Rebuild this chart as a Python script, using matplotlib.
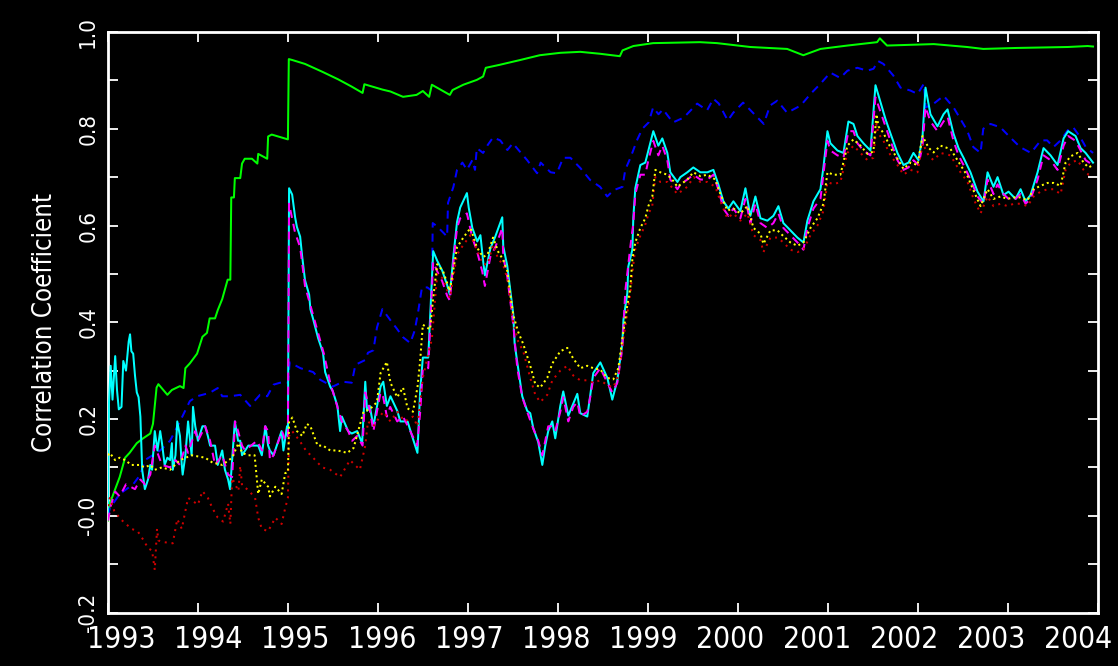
import numpy as np
import matplotlib
matplotlib.use("Agg")
import matplotlib.pyplot as plt
from matplotlib.font_manager import FontProperties, findfont
from matplotlib.transforms import blended_transform_factory

# ---------------------------------------------------------------- data
YEARS = list(range(1993, 2005))
YEAR_LABELS = [str(y) for y in YEARS]
Y_TICKS = [-0.2, 0.0, 0.2, 0.4, 0.6, 0.8, 1.0]
Y_TICK_LABELS = ['-0.2', '-0.0', '0.2', '0.4', '0.6', '0.8', '1.0']
Y_LABEL = 'Correlation Coefficient'

green_t = [1993.00, 1993.02, 1993.08, 1993.13, 1993.19, 1993.24, 1993.32, 1993.39, 1993.47, 1993.50,
           1993.54, 1993.56, 1993.66, 1993.71, 1993.80, 1993.84, 1993.86, 1993.91, 1993.99, 1994.05,
           1994.10, 1994.13, 1994.19, 1994.22, 1994.27, 1994.30, 1994.33, 1994.36, 1994.37, 1994.40,
           1994.41, 1994.47, 1994.49, 1994.52, 1994.60, 1994.66, 1994.67, 1994.77, 1994.78, 1994.82,
           1995.00, 1995.01, 1995.05, 1995.19, 1995.38, 1995.56, 1995.71, 1995.83, 1995.85, 1996.05,
           1996.14, 1996.28, 1996.43, 1996.50, 1996.57, 1996.60, 1996.80, 1996.83, 1996.95, 1997.10,
           1997.17, 1997.20, 1997.35, 1997.58, 1997.80, 1998.03, 1998.25, 1998.47, 1998.69, 1998.72,
           1998.84, 1999.06, 1999.58, 1999.77, 2000.14, 2000.55, 2000.73, 2000.92, 2001.22, 2001.55,
           2001.58, 2001.66, 2002.18, 2002.55, 2002.73, 2003.10, 2003.67, 2003.89, 2003.95]
green_v = [-0.010, 0.025, 0.055, 0.080, 0.120, 0.130, 0.150, 0.160, 0.170, 0.190,
           0.265, 0.272, 0.250, 0.260, 0.268, 0.264, 0.305, 0.315, 0.335, 0.370,
           0.378, 0.408, 0.408, 0.425, 0.448, 0.468, 0.488, 0.488, 0.658, 0.658,
           0.698, 0.698, 0.728, 0.738, 0.738, 0.728, 0.748, 0.738, 0.784, 0.788,
           0.778, 0.944, 0.942, 0.934, 0.918, 0.902, 0.887, 0.874, 0.892, 0.881,
           0.877, 0.866, 0.870, 0.878, 0.866, 0.891, 0.870, 0.880, 0.891, 0.901,
           0.908, 0.926, 0.932, 0.942, 0.952, 0.957, 0.959, 0.955, 0.950, 0.962,
           0.971, 0.977, 0.979, 0.977, 0.969, 0.965, 0.952, 0.965, 0.972, 0.979,
           0.987, 0.972, 0.975, 0.969, 0.965, 0.967, 0.969, 0.971, 0.970]

blue_t = [1993.00, 1993.02, 1993.13, 1993.28, 1993.36, 1993.41, 1993.58, 1993.69, 1993.80, 1993.91,
          1993.99, 1994.13, 1994.22, 1994.27, 1994.36, 1994.47, 1994.58, 1994.69, 1994.77, 1994.84,
          1994.95, 1995.00, 1995.02, 1995.14, 1995.28, 1995.36, 1995.50, 1995.61, 1995.71, 1995.75,
          1995.86, 1995.89, 1995.95, 1995.99, 1996.05, 1996.14, 1996.21, 1996.28, 1996.36, 1996.41,
          1996.45, 1996.49, 1996.55, 1996.60, 1996.61, 1996.66, 1996.77, 1996.78, 1996.84, 1996.88,
          1996.94, 1996.99, 1997.05, 1997.08, 1997.10, 1997.17, 1997.22, 1997.28, 1997.36, 1997.44,
          1997.50, 1997.66, 1997.77, 1997.81, 1997.92, 1997.99, 1998.06, 1998.14, 1998.25, 1998.36,
          1998.47, 1998.55, 1998.62, 1998.72, 1998.75, 1998.81, 1998.88, 1998.94, 1999.01, 1999.06,
          1999.12, 1999.17, 1999.28, 1999.40, 1999.55, 1999.66, 1999.73, 1999.79, 1999.89, 1999.95,
          2000.06, 2000.17, 2000.29, 2000.36, 2000.44, 2000.55, 2000.70, 2000.81, 2000.92, 2001.03,
          2001.14, 2001.22, 2001.33, 2001.44, 2001.51, 2001.56, 2001.62, 2001.73, 2001.81, 2001.92,
          2002.00, 2002.07, 2002.09, 2002.18, 2002.29, 2002.40, 2002.55, 2002.62, 2002.70, 2002.73,
          2002.81, 2002.92, 2003.03, 2003.14, 2003.26, 2003.37, 2003.44, 2003.51, 2003.59, 2003.67,
          2003.73, 2003.81, 2003.87, 2003.95]
blue_v = [0.000, 0.015, 0.045, 0.065, 0.085, 0.115, 0.135, 0.155, 0.195, 0.237,
          0.247, 0.254, 0.264, 0.247, 0.247, 0.250, 0.227, 0.250, 0.247, 0.271,
          0.277, 0.275, 0.317, 0.305, 0.297, 0.281, 0.267, 0.277, 0.275, 0.312,
          0.322, 0.337, 0.342, 0.389, 0.427, 0.404, 0.387, 0.369, 0.357, 0.383,
          0.424, 0.472, 0.472, 0.465, 0.605, 0.598, 0.577, 0.647, 0.680, 0.715,
          0.730, 0.715, 0.735, 0.715, 0.760, 0.750, 0.766, 0.782, 0.776, 0.756,
          0.770, 0.735, 0.708, 0.730, 0.710, 0.708, 0.740, 0.740, 0.719, 0.694,
          0.680, 0.660, 0.673, 0.680, 0.715, 0.741, 0.776, 0.800, 0.813, 0.844,
          0.830, 0.840, 0.813, 0.823, 0.852, 0.838, 0.862, 0.852, 0.817, 0.833,
          0.854, 0.833, 0.810, 0.848, 0.858, 0.833, 0.848, 0.872, 0.893, 0.916,
          0.905, 0.920, 0.926, 0.920, 0.924, 0.940, 0.934, 0.910, 0.885, 0.879,
          0.872, 0.893, 0.844, 0.852, 0.868, 0.844, 0.797, 0.762, 0.750, 0.800,
          0.810, 0.803, 0.782, 0.762, 0.750, 0.776, 0.776, 0.762, 0.776, 0.797,
          0.803, 0.782, 0.762, 0.750]

cyan_t = [1993.00, 1993.01, 1993.03, 1993.05, 1993.08, 1993.10, 1993.12, 1993.15, 1993.17, 1993.20,
          1993.23, 1993.245, 1993.26, 1993.28, 1993.30, 1993.32, 1993.34, 1993.36, 1993.38, 1993.41,
          1993.445, 1993.47, 1993.49, 1993.52, 1993.55, 1993.58, 1993.60, 1993.63, 1993.66, 1993.69,
          1993.71, 1993.72, 1993.75, 1993.77, 1993.80, 1993.82, 1993.83, 1993.86, 1993.89, 1993.93,
          1993.945, 1993.97, 1994.00, 1994.05, 1994.08, 1994.11, 1994.135, 1994.19, 1994.22, 1994.27,
          1994.30, 1994.335, 1994.357, 1994.41, 1994.446, 1994.47, 1994.49, 1994.56, 1994.67, 1994.71,
          1994.75, 1994.78, 1994.80, 1994.84, 1994.93, 1994.95, 1994.99, 1995.00, 1995.013, 1995.047,
          1995.08, 1995.10, 1995.136, 1995.158, 1995.19, 1995.236, 1995.25, 1995.28, 1995.336, 1995.39,
          1995.414, 1995.47, 1995.50, 1995.55, 1995.58, 1995.60, 1995.67, 1995.71, 1995.77, 1995.825,
          1995.86, 1995.88, 1995.91, 1995.95, 1996.03, 1996.06, 1996.10, 1996.14, 1996.215, 1996.25,
          1996.33, 1996.38, 1996.44, 1996.47, 1996.50, 1996.56, 1996.615, 1996.66, 1996.715, 1996.77,
          1996.80, 1996.84, 1996.88, 1996.915, 1996.99, 1997.01, 1997.05, 1997.105, 1997.14, 1997.17,
          1997.19, 1997.25, 1997.305, 1997.383, 1997.394, 1997.438, 1997.472, 1997.505, 1997.52, 1997.55,
          1997.605, 1997.66, 1997.694, 1997.727, 1997.783, 1997.828, 1997.861, 1997.894, 1997.939, 1997.972,
          1998.028, 1998.061, 1998.117, 1998.172, 1998.217, 1998.25, 1998.328, 1998.361, 1998.395, 1998.473,
          1998.551, 1998.606, 1998.662, 1998.717, 1998.73, 1998.773, 1998.784, 1998.829, 1998.84, 1998.862,
          1998.918, 1998.973, 1999.007, 1999.062, 1999.118, 1999.162, 1999.218, 1999.251, 1999.33, 1999.363,
          1999.44, 1999.507, 1999.585, 1999.663, 1999.73, 1999.785, 1999.841, 1999.897, 1999.952, 2000.03,
          2000.086, 2000.141, 2000.197, 2000.253, 2000.33, 2000.397, 2000.453, 2000.508, 2000.586, 2000.664,
          2000.731, 2000.775, 2000.842, 2000.92, 2000.953, 2000.998, 2001.031, 2001.109, 2001.176, 2001.231,
          2001.287, 2001.331, 2001.398, 2001.476, 2001.532, 2001.587, 2001.643, 2001.699, 2001.776, 2001.843,
          2001.899, 2001.954, 2002.01, 2002.055, 2002.088, 2002.143, 2002.221, 2002.288, 2002.333, 2002.399,
          2002.455, 2002.511, 2002.588, 2002.666, 2002.733, 2002.778, 2002.844, 2002.889, 2002.955, 2003.011,
          2003.089, 2003.145, 2003.20, 2003.256, 2003.334, 2003.40, 2003.478, 2003.556, 2003.623, 2003.674,
          2003.756, 2003.812, 2003.868, 2003.95]
cyan_v = [0.000, 0.230, 0.310, 0.240, 0.330, 0.260, 0.220, 0.225, 0.320, 0.300,
          0.360, 0.375, 0.340, 0.335, 0.290, 0.255, 0.245, 0.205, 0.095, 0.055,
          0.075, 0.105, 0.095, 0.175, 0.135, 0.175, 0.150, 0.105, 0.120, 0.115,
          0.150, 0.095, 0.125, 0.195, 0.165, 0.105, 0.085, 0.125, 0.195, 0.125,
          0.225, 0.185, 0.155, 0.185, 0.185, 0.165, 0.145, 0.145, 0.105, 0.135,
          0.095, 0.075, 0.055, 0.195, 0.155, 0.155, 0.125, 0.145, 0.145, 0.125,
          0.185, 0.145, 0.135, 0.125, 0.175, 0.135, 0.185, 0.165, 0.677, 0.664,
          0.617, 0.597, 0.577, 0.537, 0.487, 0.457, 0.427, 0.407, 0.367, 0.337,
          0.297, 0.267, 0.257, 0.227, 0.175, 0.205, 0.175, 0.170, 0.175, 0.150,
          0.277, 0.217, 0.227, 0.185, 0.267, 0.277, 0.227, 0.247, 0.217, 0.195,
          0.195, 0.165, 0.130, 0.257, 0.327, 0.327, 0.547, 0.527, 0.507, 0.477,
          0.457, 0.537, 0.607, 0.637, 0.667, 0.637, 0.595, 0.567, 0.580, 0.527,
          0.497, 0.552, 0.577, 0.617, 0.557, 0.517, 0.467, 0.417, 0.357, 0.317,
          0.247, 0.217, 0.212, 0.182, 0.152, 0.105, 0.145, 0.175, 0.195, 0.160,
          0.227, 0.257, 0.207, 0.232, 0.252, 0.212, 0.205, 0.250, 0.295, 0.317,
          0.285, 0.240, 0.280, 0.355, 0.405, 0.460, 0.515, 0.550, 0.617, 0.677,
          0.725, 0.730, 0.755, 0.795, 0.765, 0.780, 0.750, 0.710, 0.690, 0.700,
          0.710, 0.720, 0.710, 0.710, 0.715, 0.685, 0.650, 0.635, 0.650, 0.630,
          0.677, 0.620, 0.660, 0.615, 0.610, 0.620, 0.640, 0.605, 0.590, 0.575,
          0.565, 0.610, 0.650, 0.675, 0.720, 0.795, 0.770, 0.755, 0.750, 0.815,
          0.810, 0.785, 0.770, 0.755, 0.890, 0.855, 0.820, 0.790, 0.750, 0.725,
          0.730, 0.750, 0.735, 0.785, 0.885, 0.830, 0.805, 0.830, 0.840, 0.790,
          0.760, 0.740, 0.710, 0.670, 0.650, 0.710, 0.680, 0.700, 0.663, 0.670,
          0.655, 0.675, 0.650, 0.663, 0.710, 0.760, 0.745, 0.725, 0.780, 0.795,
          0.785, 0.760, 0.750, 0.730]

magenta_t = [1993.00, 1993.03, 1993.08, 1993.13, 1993.20, 1993.30, 1993.36, 1993.41, 1993.47, 1993.52,
             1993.56, 1993.60, 1993.69, 1993.75, 1993.80, 1993.86, 1993.89, 1993.97, 1994.00, 1994.08,
             1994.135, 1994.19, 1994.27, 1994.335, 1994.38, 1994.413, 1994.446, 1994.49, 1994.524, 1994.657,
             1994.713, 1994.746, 1994.78, 1994.80, 1994.84, 1994.935, 1994.97, 1995.00, 1995.013, 1995.047,
             1995.08, 1995.136, 1995.19, 1995.25, 1995.325, 1995.40, 1995.47, 1995.55, 1995.60, 1995.67,
             1995.714, 1995.77, 1995.83, 1995.86, 1995.914, 1995.95, 1996.03, 1996.06, 1996.10, 1996.137,
             1996.215, 1996.28, 1996.36, 1996.437, 1996.471, 1996.50, 1996.56, 1996.615, 1996.66, 1996.715,
             1996.77, 1996.80, 1996.84, 1996.88, 1996.915, 1996.99, 1997.05, 1997.105, 1997.16, 1997.19,
             1997.25, 1997.305, 1997.383, 1997.394, 1997.438, 1997.472, 1997.505, 1997.55, 1997.605, 1997.66,
             1997.727, 1997.783, 1997.828, 1997.861, 1997.894, 1997.939, 1997.972, 1998.028, 1998.061, 1998.117,
             1998.172, 1998.217, 1998.25, 1998.328, 1998.361, 1998.395, 1998.473, 1998.551, 1998.606, 1998.662,
             1998.717, 1998.751, 1998.806, 1998.84, 1998.862, 1998.918, 1998.973, 1999.007, 1999.062, 1999.118,
             1999.162, 1999.218, 1999.251, 1999.33, 1999.363, 1999.44, 1999.507, 1999.585, 1999.663, 1999.73,
             1999.785, 1999.841, 1999.897, 1999.952, 2000.03, 2000.086, 2000.141, 2000.197, 2000.253, 2000.33,
             2000.397, 2000.453, 2000.508, 2000.586, 2000.664, 2000.731, 2000.775, 2000.842, 2000.92, 2000.953,
             2000.998, 2001.031, 2001.109, 2001.176, 2001.231, 2001.287, 2001.331, 2001.398, 2001.476, 2001.532,
             2001.587, 2001.643, 2001.699, 2001.776, 2001.843, 2001.899, 2001.954, 2002.01, 2002.055, 2002.088,
             2002.143, 2002.221, 2002.288, 2002.333, 2002.399, 2002.455, 2002.511, 2002.588, 2002.666, 2002.733,
             2002.778, 2002.844, 2002.889, 2002.955, 2003.011, 2003.089, 2003.145, 2003.20, 2003.256, 2003.334,
             2003.40, 2003.478, 2003.556, 2003.623, 2003.674, 2003.756, 2003.812, 2003.868, 2003.95]
magenta_v = [-0.010, 0.020, 0.050, 0.040, 0.065, 0.055, 0.075, 0.065, 0.085, 0.145,
             0.125, 0.105, 0.100, 0.115, 0.105, 0.145, 0.130, 0.175, 0.155, 0.185,
             0.155, 0.105, 0.125, 0.085, 0.080, 0.195, 0.175, 0.145, 0.135, 0.155,
             0.135, 0.185, 0.175, 0.115, 0.125, 0.175, 0.155, 0.165, 0.645, 0.615,
             0.585, 0.555, 0.475, 0.435, 0.385, 0.335, 0.275, 0.225, 0.195, 0.175,
             0.155, 0.165, 0.145, 0.255, 0.215, 0.175, 0.255, 0.245, 0.205, 0.225,
             0.195, 0.205, 0.175, 0.145, 0.215, 0.305, 0.305, 0.525, 0.505, 0.485,
             0.455, 0.445, 0.525, 0.595, 0.615, 0.625, 0.575, 0.545, 0.505, 0.475,
             0.535, 0.555, 0.595, 0.535, 0.495, 0.445, 0.395, 0.305, 0.245, 0.215,
             0.180, 0.155, 0.125, 0.155, 0.185, 0.185, 0.175, 0.215, 0.245, 0.195,
             0.225, 0.235, 0.205, 0.215, 0.245, 0.285, 0.305, 0.275, 0.255, 0.275,
             0.345, 0.465, 0.555, 0.605, 0.665, 0.705, 0.705, 0.735, 0.775, 0.745,
             0.765, 0.735, 0.695, 0.675, 0.685, 0.695, 0.705, 0.695, 0.695, 0.705,
             0.675, 0.635, 0.620, 0.635, 0.615, 0.655, 0.605, 0.645, 0.605, 0.595,
             0.605, 0.625, 0.595, 0.580, 0.565, 0.550, 0.595, 0.635, 0.655, 0.705,
             0.775, 0.755, 0.745, 0.740, 0.795, 0.795, 0.770, 0.755, 0.745, 0.865,
             0.835, 0.805, 0.775, 0.735, 0.715, 0.720, 0.735, 0.725, 0.765, 0.845,
             0.815, 0.795, 0.815, 0.825, 0.775, 0.745, 0.725, 0.695, 0.660, 0.645,
             0.695, 0.665, 0.685, 0.665, 0.655, 0.655, 0.665, 0.645, 0.655, 0.695,
             0.745, 0.735, 0.715, 0.765, 0.785, 0.775, 0.755, 0.735, 0.725]

yellow_t = [1993.00, 1993.02, 1993.08, 1993.13, 1993.19, 1993.26, 1993.35, 1993.41, 1993.47, 1993.52,
            1993.60, 1993.69, 1993.80, 1993.93, 1994.08, 1994.16, 1994.27, 1994.38, 1994.45, 1994.49,
            1994.56, 1994.63, 1994.67, 1994.71, 1994.78, 1994.80, 1994.86, 1994.93, 1994.97, 1995.00,
            1995.013, 1995.05, 1995.10, 1995.16, 1995.21, 1995.25, 1995.33, 1995.39, 1995.47, 1995.55,
            1995.66, 1995.73, 1995.84, 1995.91, 1995.99, 1996.03, 1996.10, 1996.14, 1996.215, 1996.28,
            1996.33, 1996.39, 1996.44, 1996.47, 1996.50, 1996.58, 1996.615, 1996.66, 1996.726, 1996.80,
            1996.88, 1996.95, 1997.03, 1997.10, 1997.17, 1997.22, 1997.28, 1997.34, 1997.39, 1997.44,
            1997.47, 1997.505, 1997.56, 1997.616, 1997.694, 1997.75, 1997.805, 1997.883, 1997.94, 1998.028,
            1998.106, 1998.172, 1998.25, 1998.328, 1998.395, 1998.473, 1998.551, 1998.617, 1998.673, 1998.717,
            1998.773, 1998.806, 1998.829, 1998.862, 1998.918, 1998.973, 1999.007, 1999.051, 1999.085, 1999.14,
            1999.218, 1999.285, 1999.33, 1999.44, 1999.507, 1999.585, 1999.663, 1999.752, 1999.808, 1999.885,
            1999.952, 2000.03, 2000.108, 2000.175, 2000.253, 2000.286, 2000.364, 2000.442, 2000.508, 2000.586,
            2000.664, 2000.731, 2000.809, 2000.887, 2000.953, 2000.998, 2001.065, 2001.142, 2001.22, 2001.287,
            2001.365, 2001.443, 2001.509, 2001.543, 2001.565, 2001.621, 2001.699, 2001.776, 2001.843, 2001.921,
            2001.999, 2002.055, 2002.121, 2002.177, 2002.255, 2002.366, 2002.477, 2002.555, 2002.622, 2002.70,
            2002.778, 2002.844, 2002.922, 2003.00, 2003.067, 2003.145, 2003.222, 2003.289, 2003.367, 2003.445,
            2003.512, 2003.59, 2003.645, 2003.701, 2003.779, 2003.845, 2003.901, 2003.95]
yellow_v = [0.125, 0.130, 0.115, 0.120, 0.115, 0.105, 0.105, 0.100, 0.105, 0.095,
            0.100, 0.095, 0.115, 0.125, 0.120, 0.110, 0.105, 0.120, 0.150, 0.130,
            0.125, 0.125, 0.045, 0.075, 0.060, 0.040, 0.060, 0.045, 0.088, 0.090,
            0.195, 0.203, 0.175, 0.165, 0.190, 0.185, 0.145, 0.145, 0.135, 0.135,
            0.130, 0.140, 0.215, 0.220, 0.235, 0.295, 0.318, 0.275, 0.245, 0.265,
            0.222, 0.215, 0.265, 0.320, 0.395, 0.385, 0.450, 0.520, 0.505, 0.465,
            0.555, 0.575, 0.595, 0.555, 0.535, 0.540, 0.575, 0.545, 0.530, 0.505,
            0.460, 0.415, 0.380, 0.355, 0.310, 0.272, 0.265, 0.285, 0.315, 0.340,
            0.347, 0.325, 0.305, 0.310, 0.305, 0.302, 0.285, 0.282, 0.305, 0.365,
            0.435, 0.470, 0.530, 0.565, 0.595, 0.615, 0.640, 0.660, 0.715, 0.710,
            0.705, 0.692, 0.680, 0.695, 0.710, 0.702, 0.705, 0.695, 0.665, 0.631,
            0.635, 0.625, 0.640, 0.595, 0.583, 0.562, 0.590, 0.590, 0.578, 0.565,
            0.558, 0.565, 0.595, 0.615, 0.645, 0.710, 0.705, 0.705, 0.765, 0.778,
            0.765, 0.748, 0.753, 0.830, 0.805, 0.791, 0.761, 0.738, 0.717, 0.730,
            0.725, 0.785, 0.761, 0.751, 0.765, 0.758, 0.725, 0.702, 0.672, 0.640,
            0.675, 0.655, 0.660, 0.655, 0.658, 0.658, 0.652, 0.675, 0.682, 0.688,
            0.688, 0.682, 0.730, 0.743, 0.750, 0.730, 0.720, 0.725]

red_t = [1993.00, 1993.02, 1993.07, 1993.14, 1993.20, 1993.26, 1993.33, 1993.40, 1993.445, 1993.49,
         1993.52, 1993.545, 1993.56, 1993.60, 1993.72, 1993.77, 1993.82, 1993.89, 1994.00, 1994.05,
         1994.11, 1994.16, 1994.22, 1994.28, 1994.335, 1994.36, 1994.38, 1994.45, 1994.47, 1994.49,
         1994.56, 1994.635, 1994.67, 1994.71, 1994.78, 1994.86, 1994.93, 1994.97, 1995.00, 1995.013,
         1995.047, 1995.13, 1995.20, 1995.28, 1995.38, 1995.47, 1995.58, 1995.69, 1995.80, 1995.86,
         1995.89, 1995.95, 1996.06, 1996.14, 1996.215, 1996.30, 1996.39, 1996.44, 1996.50, 1996.56,
         1996.60, 1996.66, 1996.726, 1996.80, 1996.88, 1996.95, 1997.03, 1997.10, 1997.17, 1997.22,
         1997.28, 1997.34, 1997.39, 1997.44, 1997.47, 1997.505, 1997.56, 1997.616, 1997.694, 1997.75,
         1997.805, 1997.883, 1997.94, 1998.028, 1998.106, 1998.172, 1998.25, 1998.328, 1998.395, 1998.473,
         1998.551, 1998.617, 1998.673, 1998.717, 1998.773, 1998.806, 1998.84, 1998.86, 1998.92, 1998.97,
         1999.01, 1999.05, 1999.085, 1999.14, 1999.22, 1999.285, 1999.33, 1999.44, 1999.51, 1999.585,
         1999.663, 1999.752, 1999.808, 1999.885, 1999.952, 2000.03, 2000.108, 2000.175, 2000.253, 2000.286,
         2000.364, 2000.442, 2000.508, 2000.586, 2000.664, 2000.731, 2000.809, 2000.887, 2000.953, 2000.998,
         2001.065, 2001.142, 2001.22, 2001.287, 2001.365, 2001.443, 2001.509, 2001.543, 2001.565, 2001.621,
         2001.699, 2001.776, 2001.843, 2001.921, 2001.999, 2002.055, 2002.121, 2002.177, 2002.255, 2002.366,
         2002.477, 2002.555, 2002.622, 2002.70, 2002.778, 2002.844, 2002.922, 2003.00, 2003.067, 2003.145,
         2003.222, 2003.289, 2003.367, 2003.445, 2003.512, 2003.59, 2003.645, 2003.701, 2003.779, 2003.845,
         2003.901, 2003.95]
red_v = [0.020, 0.037, 0.010, -0.007, -0.017, -0.027, -0.032, -0.052, -0.067, -0.072,
         -0.112, -0.027, -0.051, -0.054, -0.057, -0.007, -0.027, 0.037, 0.023, 0.051,
         0.037, 0.016, -0.004, -0.012, 0.025, -0.017, 0.078, 0.051, 0.103, 0.063,
         0.053, 0.037, -0.004, -0.027, -0.032, -0.004, -0.017, 0.016, 0.037, 0.165,
         0.175, 0.155, 0.135, 0.120, 0.100, 0.095, 0.080, 0.115, 0.095, 0.145,
         0.195, 0.185, 0.215, 0.195, 0.215, 0.195, 0.205, 0.185, 0.285, 0.335,
         0.365, 0.500, 0.490, 0.450, 0.540, 0.560, 0.580, 0.550, 0.520, 0.520,
         0.560, 0.530, 0.520, 0.490, 0.450, 0.400, 0.360, 0.340, 0.285, 0.250,
         0.235, 0.250, 0.280, 0.300, 0.310, 0.290, 0.280, 0.280, 0.275, 0.280,
         0.270, 0.265, 0.290, 0.350, 0.420, 0.460, 0.520, 0.550, 0.580, 0.600,
         0.625, 0.640, 0.700, 0.690, 0.690, 0.675, 0.665, 0.680, 0.700, 0.690,
         0.690, 0.680, 0.650, 0.615, 0.625, 0.610, 0.625, 0.580, 0.570, 0.545,
         0.575, 0.575, 0.565, 0.550, 0.545, 0.550, 0.580, 0.600, 0.630, 0.690,
         0.685, 0.690, 0.750, 0.765, 0.750, 0.735, 0.740, 0.810, 0.790, 0.775,
         0.745, 0.725, 0.705, 0.715, 0.710, 0.770, 0.745, 0.735, 0.750, 0.745,
         0.710, 0.690, 0.655, 0.625, 0.660, 0.640, 0.645, 0.640, 0.645, 0.645,
         0.640, 0.660, 0.670, 0.675, 0.675, 0.665, 0.715, 0.730, 0.735, 0.715,
         0.705, 0.710]

# ---------------------------------------------------------------- fonts
_cond = FontProperties(family='DejaVu Sans', stretch='condensed')
HAVE_CONDENSED = 'Condensed' in findfont(_cond, fallback_to_default=True)
plt.rcParams['font.family'] = ['DejaVu Sans']
STRETCH = 'condensed' if HAVE_CONDENSED else 'normal'
if HAVE_CONDENSED:
    FS_YEAR, FS_YTICK, FS_YLABEL = 21.5, 16.0, 18.5
else:
    FS_YEAR, FS_YTICK, FS_YLABEL = 19.0, 14.5, 16.5

# ---------------------------------------------------------------- figure
W, H = 1118, 666
fig = plt.figure(figsize=(W / 100, H / 100), dpi=100, facecolor='black')
left_px, right_px, top_px, bottom_px = 108, 1097.5, 32, 612.5
ax = fig.add_axes([left_px / W, (H - bottom_px) / H,
                   (right_px - left_px) / W, (bottom_px - top_px) / H])
ax.set_facecolor('black')

lw = 1.45
ax.plot(green_t, green_v, color='#00ff00', lw=lw, zorder=3)
ax.plot(blue_t, blue_v, color='#0000ff', lw=lw, linestyle=(0, (4, 3)), zorder=3)
ax.plot(cyan_t, cyan_v, color='#00ffff', lw=lw, zorder=4)
ax.plot(magenta_t, magenta_v, color='#ff00ff', lw=lw, linestyle=(0, (4, 3)), zorder=5)
ax.plot(red_t, red_v, color='#d00000', lw=lw, linestyle=(0, (1, 2.4)), zorder=6)
ax.plot(yellow_t, yellow_v, color='#ffff00', lw=lw, linestyle=(0, (1, 1.6)), zorder=7)

ax.set_xlim(1993, 2004)
ax.set_ylim(-0.2, 1.0)

for sp in ax.spines.values():
    sp.set_color('white')
    sp.set_linewidth(2.0)

ax.set_xticks(YEARS)
ax.set_xticklabels([])
ax.tick_params(axis='x', which='both', direction='in', top=True, bottom=True,
               length=7, width=1.3, color='white')
ax.set_yticks(Y_TICKS)
ax.set_yticks(np.arange(-0.1, 1.0, 0.2), minor=True)
ax.set_yticklabels(Y_TICK_LABELS, rotation=90, va='center', ha='right',
                   color='white', fontsize=FS_YTICK, fontstretch=STRETCH)
ax.tick_params(axis='y', which='both', direction='in', left=True, right=True,
               length=7, width=1.3, color='white', pad=7)

# year labels sit on a slightly tighter spacing than the ticks
trans = blended_transform_factory(ax.transData, fig.transFigure)
step = 86.9 / 89.9
for i, lab in enumerate(YEAR_LABELS):
    ax.text(1993.15 + i * step, (H - 640) / H, lab, transform=trans,
            ha='center', va='center', color='white', fontsize=FS_YEAR,
            fontstretch=STRETCH, clip_on=False)

fig.text(45 / W, (H - 322) / H, Y_LABEL, rotation=90, ha='center', va='center',
         color='white', fontsize=FS_YLABEL, fontstretch=STRETCH)

fig.savefig('out.png', dpi=100, facecolor='black')
